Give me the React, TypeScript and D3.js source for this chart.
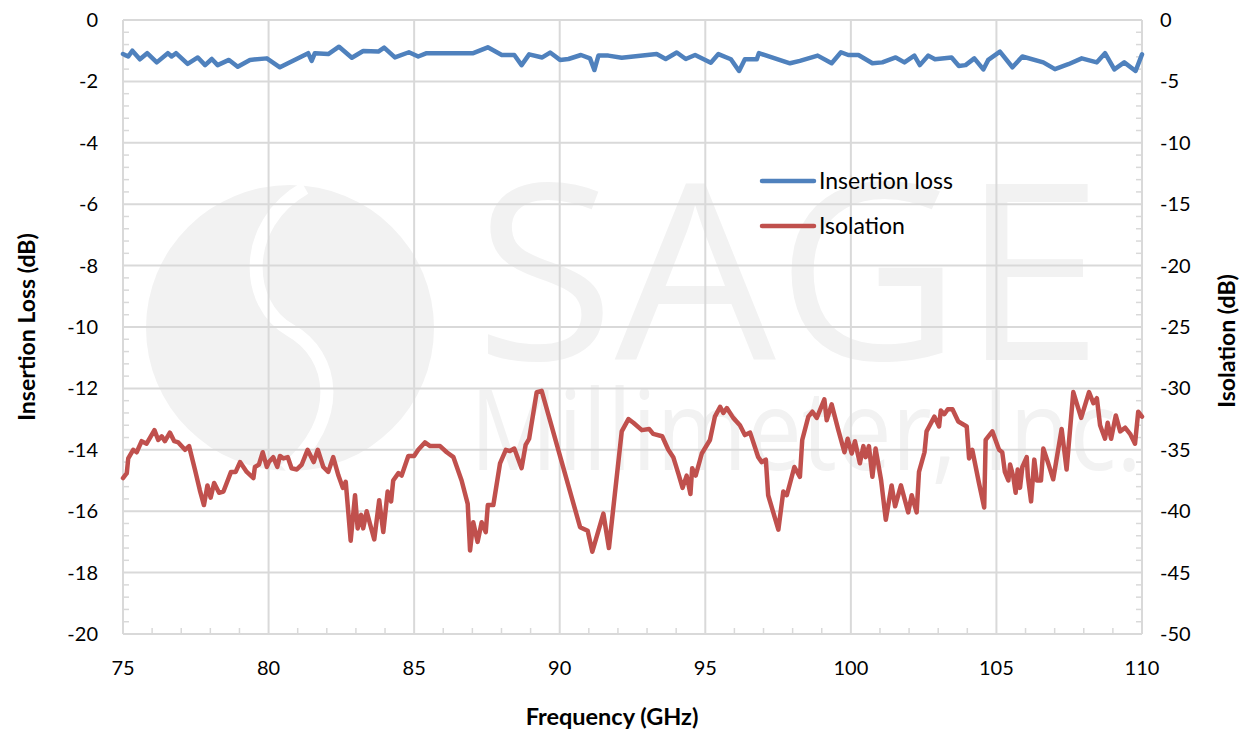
import * as d3 from "d3";
import { FC } from "react";

// insertion loss (left axis, dB)
const ilFreq = [
  75.0, 75.18, 75.32, 75.58, 75.83, 76.16, 76.54, 76.67, 76.82, 77.22, 77.57,
  77.82, 78.05, 78.25, 78.64, 78.94, 79.36, 79.94, 80.39, 81.36, 81.48, 81.59,
  82.05, 82.42, 82.86, 83.25, 83.77, 83.97, 84.34, 84.82, 85.14, 85.43, 86.75,
  87.03, 87.53, 88.01, 88.44, 88.69, 88.95, 89.4, 89.67, 90.01, 90.3, 90.73,
  91.04, 91.19, 91.33, 91.67, 92.13, 93.33, 93.64, 94.02, 94.33, 94.65, 95.19,
  95.45, 95.88, 96.16, 96.36, 96.77, 96.84, 97.91, 98.25, 98.86, 99.34, 99.66,
  99.91, 100.26, 100.74, 101.08, 101.54, 101.84, 102.18, 102.37, 102.66,
  102.89, 103.46, 103.71, 103.94, 104.24, 104.55, 104.72, 105.12, 105.55,
  105.89, 106.61, 107.01, 107.47, 107.93, 108.45, 108.73, 109.05, 109.39,
  109.78, 110.0,
];
const ilValues = [
  -1.11, -1.19, -1.0, -1.28, -1.08, -1.38, -1.08, -1.19, -1.08, -1.43, -1.22,
  -1.47, -1.27, -1.47, -1.3, -1.52, -1.3, -1.25, -1.54, -1.08, -1.33, -1.08,
  -1.11, -0.87, -1.23, -1.01, -1.03, -0.9, -1.22, -1.05, -1.19, -1.08, -1.08,
  -1.08, -0.89, -1.14, -1.14, -1.47, -1.12, -1.22, -1.06, -1.3, -1.27, -1.14,
  -1.25, -1.63, -1.16, -1.16, -1.23, -1.11, -1.27, -1.06, -1.27, -1.14, -1.39,
  -1.11, -1.28, -1.66, -1.28, -1.28, -1.08, -1.41, -1.33, -1.16, -1.41, -1.05,
  -1.14, -1.14, -1.41, -1.38, -1.22, -1.38, -1.16, -1.47, -1.16, -1.28, -1.22,
  -1.5, -1.47, -1.25, -1.61, -1.3, -1.03, -1.54, -1.19, -1.38, -1.6, -1.44,
  -1.25, -1.38, -1.08, -1.61, -1.38, -1.66, -1.12,
];

// isolation (right axis, dB)
const isoFreq = [
  75.0, 75.13, 75.18, 75.35, 75.47, 75.64, 75.81, 76.08, 76.21, 76.33, 76.44,
  76.61, 76.76, 76.9, 77.13, 77.27, 77.47, 77.64, 77.78, 77.9, 78.01, 78.13,
  78.3, 78.45, 78.71, 78.87, 79.02, 79.25, 79.48, 79.53, 79.67, 79.8, 79.94,
  80.01, 80.16, 80.3, 80.39, 80.51, 80.66, 80.79, 80.97, 81.14, 81.34, 81.55,
  81.69, 81.88, 82.05, 82.22, 82.4, 82.55, 82.65, 82.82, 82.97, 83.06, 83.18,
  83.25, 83.37, 83.48, 83.63, 83.8, 83.94, 84.09, 84.21, 84.28, 84.46, 84.57,
  84.8, 85.0, 85.14, 85.37, 85.55, 85.89, 86.12, 86.35, 86.63, 86.84, 86.92,
  87.03, 87.18, 87.32, 87.46, 87.53, 87.72, 87.95, 88.15, 88.29, 88.44, 88.69,
  88.83, 88.95, 89.21, 89.38, 90.7, 90.96, 91.12, 91.5, 91.69, 92.13, 92.36,
  92.53, 92.82, 93.07, 93.21, 93.52, 93.73, 93.9, 94.07, 94.22, 94.36, 94.49,
  94.55, 94.67, 94.88, 95.16, 95.33, 95.51, 95.62, 95.74, 95.96, 96.19, 96.36,
  96.54, 96.82, 96.94, 97.08, 97.16, 97.51, 97.68, 97.8, 98.06, 98.25, 98.33,
  98.54, 98.68, 98.83, 99.09, 99.17, 99.34, 99.57, 99.78, 99.89, 100.03,
  100.14, 100.31, 100.43, 100.51, 100.62, 100.74, 100.85, 101.04, 101.2,
  101.4, 101.52, 101.72, 101.97, 102.09, 102.26, 102.34, 102.53, 102.6,
  102.87, 103.03, 103.09, 103.21, 103.33, 103.49, 103.69, 103.98, 104.06,
  104.17, 104.4, 104.58, 104.63, 104.86, 105.09, 105.2, 105.29, 105.41,
  105.47, 105.58, 105.66, 105.73, 105.81, 105.89, 106.04, 106.08, 106.19,
  106.3, 106.39, 106.53, 106.61, 106.78, 106.95, 107.24, 107.41, 107.64,
  107.91, 108.18, 108.33, 108.45, 108.56, 108.73, 108.82, 108.94, 109.1,
  109.25, 109.42, 109.59, 109.76, 109.87, 110.0,
];
const isoValues = [
  -37.3, -36.9, -35.7, -35.0, -35.2, -34.3, -34.5, -33.4, -34.2, -33.9, -34.3,
  -33.6, -34.3, -34.4, -35.0, -34.7, -36.6, -38.3, -39.5, -37.9, -38.9, -37.7,
  -38.5, -38.4, -36.8, -36.8, -36.0, -36.8, -37.3, -36.4, -36.2, -35.2, -36.4,
  -36.0, -35.6, -36.4, -35.5, -35.7, -35.6, -36.5, -36.6, -36.2, -35.0, -36.0,
  -35.0, -36.4, -36.8, -35.6, -37.1, -38.1, -37.6, -42.4, -38.7, -41.4, -40.3,
  -41.4, -40.0, -41.0, -42.3, -39.1, -41.7, -38.4, -39.2, -37.5, -36.9, -37.1,
  -35.5, -35.5, -35.0, -34.4, -34.7, -34.7, -35.2, -35.6, -37.5, -39.4, -43.2,
  -40.9, -42.5, -40.9, -41.7, -39.5, -39.5, -36.1, -35.0, -35.1, -34.9, -36.5,
  -34.6, -34.1, -30.3, -30.2, -41.3, -41.6, -43.3, -40.2, -43.0, -33.5, -32.5,
  -32.8, -33.4, -33.3, -33.7, -33.9, -35.0, -35.6, -36.9, -38.1, -37.1, -38.6,
  -36.5, -37.1, -35.3, -34.2, -32.3, -31.5, -32.0, -31.6, -32.4, -33.0, -33.8,
  -33.6, -35.6, -36.0, -35.8, -38.7, -41.5, -38.4, -38.7, -36.4, -37.2, -34.2,
  -32.3, -31.9, -32.4, -30.9, -32.6, -31.3, -33.4, -35.2, -34.1, -35.3, -34.3,
  -36.1, -34.7, -35.6, -34.7, -37.2, -34.9, -37.5, -40.7, -37.9, -39.6, -37.9,
  -40.1, -38.7, -40.1, -36.8, -35.2, -33.5, -32.3, -33.1, -31.8, -32.1, -31.7,
  -31.7, -32.7, -33.1, -35.7, -35.0, -37.7, -39.7, -34.2, -33.5, -35.0, -35.2,
  -36.8, -37.5, -36.2, -37.2, -38.5, -36.6, -38.1, -36.4, -35.6, -37.2, -39.2,
  -35.8, -37.5, -37.5, -34.9, -36.1, -37.4, -33.3, -36.6, -30.3, -32.4, -30.3,
  -31.2, -30.8, -33.0, -34.1, -32.8, -34.1, -32.2, -33.5, -33.2, -33.7, -34.5,
  -31.9, -32.3,
];

const xTicks = [75, 80, 85, 90, 95, 100, 105, 110];
const leftTicks = [0, -2, -4, -6, -8, -10, -12, -14, -16, -18, -20];
const rightTicks = [0, -5, -10, -15, -20, -25, -30, -35, -40, -45, -50];
const seriesNames = ["Insertion loss", "Isolation"];

const W = 1246;
const H = 731;
const FONT = "Lato, 'Open Sans', sans-serif";
const GRID = "#d9d9d9";
const BLUE = "#4f81bd";
const RED = "#c0504d";
const WM = "#f2f2f2";

const App: FC = () => {
  const x = d3.scaleLinear().domain([75, 110]).range([123, 1142]);
  const yL = d3.scaleLinear().domain([0, -20]).range([20, 634]);
  const yR = d3.scaleLinear().domain([0, -50]).range([20, 634]);
  const [x0, x1] = x.range();
  const [y0, y1] = yL.range();

  const ilLine = d3
    .line<number>()
    .x((_, i) => x(ilFreq[i]))
    .y((d) => yL(d));
  const isoLine = d3
    .line<number>()
    .x((_, i) => x(isoFreq[i]))
    .y((d) => yR(d));

  // minor ticks: 1 GHz, 0.4 dB (left), 1 dB (right)
  const minorX = d3.range(75, 110.01, 1).filter((v) => v % 5 !== 0);
  const minorL = d3
    .range(0, -20.01, -0.4)
    .filter((v) => Math.abs(v / 2 - Math.round(v / 2)) > 0.01);
  const minorR = d3.range(0, -50.01, -1).filter((v) => v % 5 !== 0);

  return (
    <svg
      width={W}
      height={H}
      style={{ position: "absolute", left: 0, top: 0, background: "#fff" }}
    >
      {/* watermark */}
      <g>
        <ellipse cx={290} cy={328} rx={144} ry={143} fill={WM} />
        <path
          d="M 305 188 C 240 225 245 305 290 330 C 335 355 345 420 285 470"
          fill="none"
          stroke="#fff"
          strokeWidth={13}
        />
        <text
          x={475}
          y={360}
          fontFamily="'Open Sans', sans-serif"
          fontSize={245}
          fill={WM}
          textLength={628}
          lengthAdjust="spacingAndGlyphs"
        >
          SAGE
        </text>
        <text
          x={470}
          y={470}
          fontFamily="'Open Sans', sans-serif"
          fontSize={112}
          fill={WM}
          textLength={672}
          lengthAdjust="spacingAndGlyphs"
        >
          Millimeter, Inc.
        </text>
      </g>

      {/* gridlines */}
      {leftTicks.map((t) => (
        <line key={"gy" + t} x1={x0} x2={x1} y1={yL(t)} y2={yL(t)} stroke={GRID} strokeWidth={2} />
      ))}
      {xTicks.map((t) => (
        <line key={"gx" + t} x1={x(t)} x2={x(t)} y1={y0} y2={y1} stroke={GRID} strokeWidth={2} />
      ))}
      {minorX.map((t) => (
        <line key={"mx" + t} x1={x(t)} x2={x(t)} y1={y1} y2={y1 - 6} stroke={GRID} strokeWidth={1.5} />
      ))}
      {minorL.map((t) => (
        <line key={"ml" + t} x1={x0} x2={x0 + 6} y1={yL(t)} y2={yL(t)} stroke={GRID} strokeWidth={1.5} />
      ))}
      {minorR.map((t) => (
        <line key={"mr" + t} x1={x1} x2={x1 - 6} y1={yR(t)} y2={yR(t)} stroke={GRID} strokeWidth={1.5} />
      ))}

      {/* series */}
      <path
        d={isoLine(isoValues) ?? ""}
        fill="none"
        stroke={RED}
        strokeWidth={4.5}
        strokeLinejoin="round"
        strokeLinecap="round"
      />
      <path
        d={ilLine(ilValues) ?? ""}
        fill="none"
        stroke={BLUE}
        strokeWidth={4.5}
        strokeLinejoin="round"
        strokeLinecap="round"
      />

      {/* tick labels */}
      {leftTicks.map((t) => (
        <text key={"tl" + t} x={98} y={yL(t)} dy="0.35em" textAnchor="end" fontFamily={FONT} fontSize={20}>
          {t}
        </text>
      ))}
      {rightTicks.map((t) => (
        <text key={"tr" + t} x={1160} y={yR(t)} dy="0.35em" textAnchor="start" fontFamily={FONT} fontSize={20}>
          {t}
        </text>
      ))}
      {xTicks.map((t) => (
        <text key={"tx" + t} x={x(t)} y={668} dy="0.35em" textAnchor="middle" fontFamily={FONT} fontSize={20}>
          {t}
        </text>
      ))}

      {/* axis titles */}
      <text x={612} y={717} dy="0.35em" textAnchor="middle" fontFamily={FONT} fontWeight="bold" fontSize={23.5}>
        Frequency (GHz)
      </text>
      <text
        transform={`translate(27,${(y0 + y1) / 2}) rotate(-90)`}
        dy="0.35em"
        textAnchor="middle"
        fontFamily={FONT}
        fontWeight="bold"
        fontSize={23}
      >
        Insertion Loss (dB)
      </text>
      <text
        transform={`translate(1227,${(y0 + y1) / 2 + 14}) rotate(-90)`}
        dy="0.35em"
        textAnchor="middle"
        fontFamily={FONT}
        fontWeight="bold"
        fontSize={23}
      >
        Isolation (dB)
      </text>

      {/* legend */}
      {seriesNames.map((n, i) => (
        <g key={n} transform={`translate(762,${181 + i * 45})`}>
          <line x1={0} x2={52} y1={0} y2={0} stroke={i === 0 ? BLUE : RED} strokeWidth={4.5} strokeLinecap="round" />
          <text x={57} y={0} dy="0.35em" fontFamily={FONT} fontSize={23}>
            {n}
          </text>
        </g>
      ))}
    </svg>
  );
};

export default App;
